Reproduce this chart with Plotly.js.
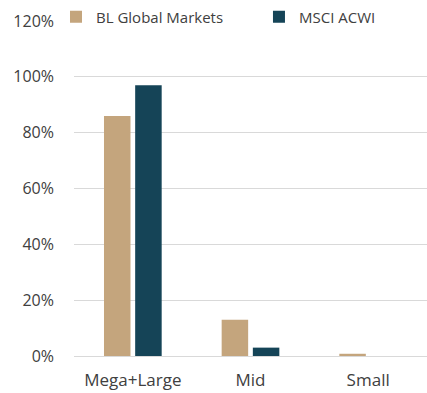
<!DOCTYPE html>
<html>
<head>
<meta charset="utf-8">
<script src="https://cdn.plot.ly/plotly-3.0.1.min.js"></script>
<style>html,body{margin:0;padding:0;background:#fff;}#chart{width:427px;height:393px;}</style>
</head>
<body>
<div id="chart"></div>
<script>
const categories = ["Mega+Large", "Mid", "Small"];
const blGlobal = [0.86, 0.13, 0.008];
const msciAcwi = [0.97, 0.03, 0.0];
const seriesNames = ["BL Global Markets", "MSCI ACWI"];
const yTickVals = [0, 0.2, 0.4, 0.6, 0.8, 1.0, 1.2];
const yTickText = ["0%", "20%", "40%", "60%", "80%", "100%", "120%"];

const fontFam = "Open Sans, Liberation Sans, sans-serif";
const traces = [
  {type: "bar", x: categories, y: blGlobal, name: seriesNames[0], marker: {color: "#C4A57D"}, legend: "legend", hoverinfo: "skip"},
  {type: "bar", x: categories, y: msciAcwi, name: seriesNames[1], marker: {color: "#154457"}, legend: "legend2", hoverinfo: "skip"}
];
const layout = {
  width: 427, height: 393,
  margin: {l: 74, r: 0, t: 19, b: 37},
  paper_bgcolor: "#fff", plot_bgcolor: "#fff",
  font: {family: fontFam, color: "#404040", size: 16},
  barmode: "group", bargap: 0.47, bargroupgap: 0.15,
  showlegend: true,
  legend: {orientation: "h", x: -0.051, xanchor: "left", y: 1.012, yanchor: "middle", font: {size: 15, color: "#404040"}, bgcolor: "rgba(0,0,0,0)"},
  legend2: {orientation: "h", x: 0.524, xanchor: "left", y: 1.012, yanchor: "middle", font: {size: 15, color: "#404040"}, bgcolor: "rgba(0,0,0,0)"},
  xaxis: {type: "category", showgrid: false, showline: false, zeroline: false, ticks: "", ticklabelstandoff: 12, tickfont: {size: 17, color: "#404040"}},
  yaxis: {range: [0, 1.2], tickvals: yTickVals, ticktext: yTickText, showgrid: true, gridcolor: "#D9D9D9", gridwidth: 1, zeroline: true, zerolinecolor: "#D9D9D9", zerolinewidth: 1, showline: false, ticks: "", ticklabelstandoff: 19, tickfont: {size: 16, color: "#404040"}}
};
Plotly.newPlot("chart", traces, layout, {staticPlot: true, displayModeBar: false});
</script>
</body>
</html>
